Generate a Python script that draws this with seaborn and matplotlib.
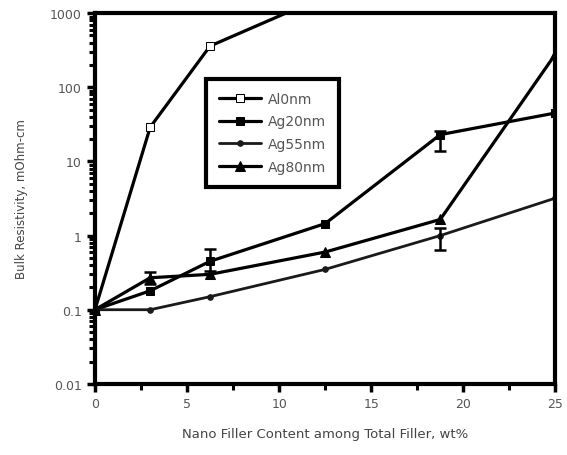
import matplotlib
matplotlib.use("Agg")
import matplotlib.pyplot as plt
import seaborn as sns
import pandas as pd
import numpy as np
from matplotlib.ticker import LogLocator, MultipleLocator, FuncFormatter

sns.set_theme(style="white")
plt.rcParams['font.family'] = ['DejaVu Sans']

x_vals = [0, 3, 6.25, 12.5, 18.75, 25]
al0 = [0.1, 29, 360, 1700, None, None]
ag20 = [0.1, 0.18, 0.45, 1.45, 23, 45]
ag55 = [0.1, 0.1, 0.15, 0.35, 1.0, 3.2]
ag80 = [0.1, 0.27, 0.3, 0.6, 1.65, 280]
labels = ["Al0nm", "Ag20nm", "Ag55nm", "Ag80nm"]

# error bars: (series, x, low, high)
err_series = ["Ag20nm", "Ag20nm", "Ag55nm", "Ag80nm"]
err_x = [6.25, 18.75, 18.75, 3]
err_low = [0.33, 14, 0.63, 0.22]
err_high = [0.66, 26, 1.25, 0.32]

fig = plt.figure(figsize=(5.67, 4.56), dpi=100)
ax = fig.add_axes([0.1675, 0.156, 0.812, 0.813])

series = [al0, ag20, ag55, ag80]
styles = [
    dict(marker='s', markerfacecolor='white', markeredgecolor='black', markersize=6, color='black', linewidth=2.3),
    dict(marker='s', markerfacecolor='black', markeredgecolor='black', markersize=6, color='black', linewidth=2.3),
    dict(marker='o', markerfacecolor='#1a1a1a', markeredgecolor='#1a1a1a', markersize=4, color='#1a1a1a', linewidth=2.0),
    dict(marker='^', markerfacecolor='black', markeredgecolor='black', markersize=7, color='black', linewidth=2.3),
]
for lab, vals, st in zip(labels, series, styles):
    df = pd.DataFrame({"x": x_vals, "y": vals}).dropna()
    sns.lineplot(data=df, x="x", y="y", ax=ax, label=lab, **st)

for s, xv, lo, hi in zip(err_series, err_x, err_low, err_high):
    idx = labels.index(s)
    yv = series[idx][x_vals.index(xv)]
    ax.errorbar([xv], [yv], yerr=[[yv - lo], [hi - yv]], fmt='none',
                ecolor='black', elinewidth=1.8, capsize=4, capthick=1.8)

ax.set_yscale('log')
ax.set_xlim(0, 25)
ax.set_ylim(0.01, 1000)
ax.yaxis.set_major_locator(LogLocator(base=10, numticks=10))
ax.yaxis.set_minor_locator(LogLocator(base=10, subs=np.arange(2, 10), numticks=10))
ax.yaxis.set_major_formatter(FuncFormatter(lambda v, p: {0.01: '0.01', 0.1: '0.1', 1: '1', 10: '10', 100: '100', 1000: '1000'}.get(round(v, 2) if v < 1 else round(v), '')))
ax.xaxis.set_major_locator(MultipleLocator(5))
ax.xaxis.set_minor_locator(MultipleLocator(2.5))

for sp in ax.spines.values():
    sp.set_linewidth(3)
    sp.set_color('black')

ax.tick_params(axis='both', which='major', direction='out', length=6, width=2.5,
               color='black', labelsize=9, labelcolor='#555555', bottom=True, left=True, top=False, right=False)
ax.tick_params(axis='both', which='minor', direction='out', length=4, width=2.2,
               color='black', bottom=True, left=True, top=False, right=False)

ax.set_xlabel("Nano Filler Content among Total Filler, wt%", fontsize=9.5, color='#444444', labelpad=12)
ax.set_ylabel("Bulk Resistivity, mOhm-cm", fontsize=8.5, color='#444444', labelpad=16)

leg = ax.legend(loc='upper left', bbox_to_anchor=(0.226, 0.842), frameon=True, fancybox=False,
                edgecolor='black', framealpha=1, fontsize=10, handlelength=3, labelspacing=0.62,
                borderpad=0.95, handletextpad=0.5)
leg.get_frame().set_linewidth(3)
leg.get_frame().set_edgecolor('black')
for t in leg.get_texts():
    t.set_color('#555555')

fig.savefig("out.png", dpi=100)
